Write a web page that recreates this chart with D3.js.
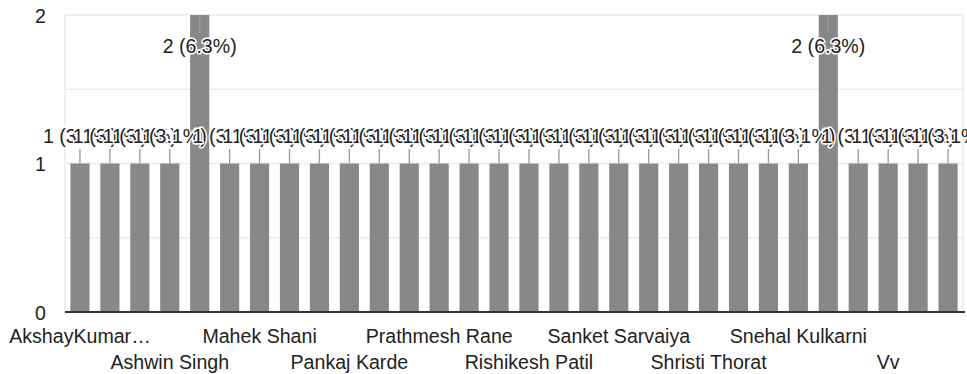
<!DOCTYPE html>
<html>
<head>
<meta charset="utf-8">
<script src="https://cdn.jsdelivr.net/npm/d3@7"></script>
<style>
  html, body { margin: 0; padding: 0; background: #fff; }
  svg { display: block; }
  text { font-family: "Liberation Sans", Arial, sans-serif; }
</style>
</head>
<body>
<svg id="chart" width="967" height="374"></svg>
<script>
// ---- data ----
const categories = [
  "AkshayKumar…", "Aman Gupta", "Ankit Sharma", "Ashwin Singh", "Dhruv Patel",
  "Kiran More", "Mahek Shani", "Neha Joshi", "Omkar Jadhav", "Pankaj Karde",
  "Pooja Desai", "Pranav Shinde", "Prathmesh Rane", "Priya Nair", "Rahul Verma",
  "Rishikesh Patil", "Rohit Pawar", "Sakshi Mehta", "Sanket Sarvaiya", "Saurabh Kale",
  "Shreya Iyer", "Shristi Thorat", "Siddharth Rao", "Sneha Patil", "Snehal Kulkarni",
  "Sumit Yadav", "Tanvi Bhosale", "Vv", "Yash Gaikwad", "Zoya Khan"
];
const counts = [
  1, 1, 1, 1, 2,
  1, 1, 1, 1, 1,
  1, 1, 1, 1, 1,
  1, 1, 1, 1, 1,
  1, 1, 1, 1, 1,
  2, 1, 1, 1, 1
];
const yTickLabels = [0, 1, 2];
const gridValues = [0, 0.5, 1, 1.5, 2];
const shownLabelEvery = 3;

// ---- layout ----
const plotLeft = 65, plotRight = 963, plotTop = 15, plotBottom = 312;
const fontSize = 19.6;
const total = d3.sum(counts);

const svg = d3.select("#chart");

const x = d3.scaleBand()
  .domain(d3.range(categories.length))
  .range([plotLeft, plotRight])
  .paddingInner(0.36)
  .paddingOuter(0.18);

const y = d3.scaleLinear().domain([0, 2]).range([plotBottom, plotTop]);

// gridlines
svg.append("g").selectAll("line")
  .data(gridValues.filter(v => v !== 0))
  .join("line")
  .attr("x1", plotLeft).attr("x2", plotRight)
  .attr("y1", d => y(d)).attr("y2", d => y(d))
  .attr("stroke", "#ebebeb").attr("stroke-width", 1.5);

// vertical frame lines
svg.append("g").selectAll("line")
  .data([plotLeft, plotRight])
  .join("line")
  .attr("x1", d => d).attr("x2", d => d)
  .attr("y1", plotTop).attr("y2", plotBottom)
  .attr("stroke", "#ebebeb").attr("stroke-width", 1.5);

// bars
svg.append("g").selectAll("rect")
  .data(counts)
  .join("rect")
  .attr("x", (d, i) => x(i))
  .attr("width", x.bandwidth())
  .attr("y", d => y(d))
  .attr("height", d => y(0) - y(d))
  .attr("fill", "#888888");

// baseline
svg.append("line")
  .attr("x1", plotLeft).attr("x2", 965)
  .attr("y1", y(0)).attr("y2", y(0))
  .attr("stroke", "#333").attr("stroke-width", 2);

// y axis labels
const yAxis = d3.axisLeft(y).tickValues(yTickLabels).tickSize(0).tickPadding(0).tickFormat(d3.format("d"));
const yg = svg.append("g").attr("transform", `translate(${plotLeft - 19},0)`).call(yAxis);
yg.select(".domain").remove();
yg.selectAll("text")
  .attr("font-size", fontSize)
  .attr("font-family", "'Liberation Sans', Arial, sans-serif")
  .attr("fill", "#222")
  .attr("dy", "0.36em");

// annotations (leader lines + labels)
const ann = svg.append("g");
counts.forEach((v, i) => {
  const cx = x(i) + x.bandwidth() / 2;
  const yTop = y(v);
  const label = `${v} (${d3.format(".1f")(v / total * 100)}%)`;
  let l1, l2, base;
  if (yTop - 40 < plotTop) {
    l1 = yTop; l2 = yTop + 18; base = yTop + 38;
  } else {
    l1 = yTop - 14.5; l2 = yTop; base = yTop - 20.5;
  }
  ann.append("line")
    .attr("x1", cx).attr("x2", cx)
    .attr("y1", l1).attr("y2", l2)
    .attr("stroke", "#9a9a9a").attr("stroke-width", 1.3);
  ann.append("text")
    .attr("x", cx).attr("y", base)
    .attr("text-anchor", "middle")
    .attr("font-size", fontSize)
    .attr("fill", "#222")
    .attr("stroke", "#fff")
    .attr("stroke-width", 3)
    .attr("stroke-linejoin", "round")
    .attr("paint-order", "stroke")
    .text(label);
});

// x axis labels: every 3rd category, alternating two rows
const xg = svg.append("g");
categories.forEach((c, i) => {
  if (i % shownLabelEvery !== 0) return;
  const row = (i / shownLabelEvery) % 2;
  xg.append("text")
    .attr("x", x(i) + x.bandwidth() / 2)
    .attr("y", row === 0 ? 343 : 369)
    .attr("text-anchor", "middle")
    .attr("font-size", fontSize)
    .attr("fill", "#222")
    .text(c);
});
</script>
</body>
</html>
